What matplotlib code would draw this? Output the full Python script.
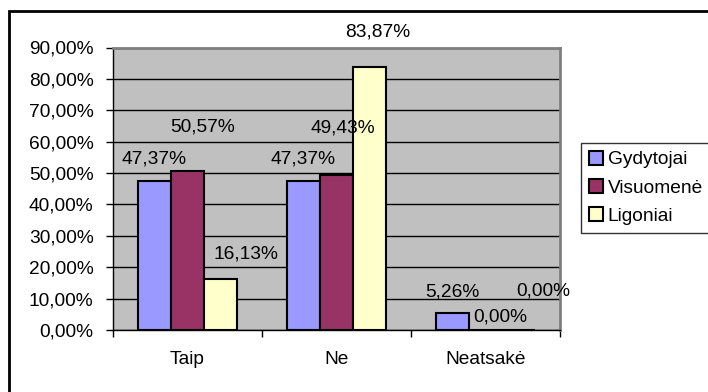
import numpy as np
import matplotlib
matplotlib.use("Agg")
import matplotlib.pyplot as plt
from matplotlib.patches import Rectangle

plt.rcParams['font.family'] = ['Liberation Sans', 'DejaVu Sans']
plt.rcParams['font.size'] = 13.8

categories = ["Taip", "Ne", "Neatsakė"]
series = ["Gydytojai", "Visuomenė", "Ligoniai"]
gydytojai = [47.37, 47.37, 5.26]
visuomene = [50.57, 49.43, 0.00]
ligoniai = [16.13, 83.87, 0.00]
yticks = [0, 10, 20, 30, 40, 50, 60, 70, 80, 90]

colors = ["#9999FF", "#993366", "#FFFFCC"]
# label offsets from the top of each bar, in pixels (labels were moved by hand in the original)
label_offsets = [
    [(0, 22), (0, 22), (0, 21)],
    [(15, 44), (6, 47), (15, 13)],
    [(25, 25), (8, 35), (25, 39)],
]

def pct(v):
    return "{:.2f}%".format(v).replace(".", ",")

fig = plt.figure(figsize=(7.08, 3.92), dpi=100)
ax = fig.add_axes([113 / 708, 62 / 392, 447 / 708, 282.5 / 392])
ax.set_facecolor("#C0C0C0")

x = np.arange(len(categories))
width = 0.222
data = [gydytojai, visuomene, ligoniai]
for i, (name, vals) in enumerate(zip(series, data)):
    pos = x + (i - 1) * width
    ax.bar(pos, vals, width, color=colors[i], edgecolor="black", linewidth=1.5,
           label=name, zorder=3)
    for j, v in enumerate(vals):
        dx, dy = label_offsets[i][j]
        ax.annotate(pct(v), (pos[j], v), xytext=(dx, dy), textcoords="offset pixels",
                    ha="center", va="center", annotation_clip=False, zorder=4)

ax.set_xlim(-0.5, len(categories) - 0.5)
ax.set_ylim(0, 90)
ax.set_yticks(yticks)
ax.set_yticklabels([pct(t) for t in yticks])
ax.yaxis.grid(True, color="black", linewidth=1, zorder=0)
ax.set_axisbelow(True)

# category boundaries get the tick marks, labels sit in the middle
ax.set_xticks(np.arange(len(categories) + 1) - 0.5)
ax.set_xticklabels([])
ax.set_xticks(x, minor=True)
ax.set_xticklabels(categories, minor=True)
ax.tick_params(axis="x", which="major", direction="out", length=5, width=1)
ax.tick_params(axis="x", which="minor", length=0, pad=15)
ax.tick_params(axis="y", direction="out", length=5, width=1, pad=9)

for s in ["top", "right"]:
    ax.spines[s].set_color("#808080")
    ax.spines[s].set_linewidth(2)
for s in ["left", "bottom"]:
    ax.spines[s].set_color("black")
    ax.spines[s].set_linewidth(1)

leg = fig.legend(loc="upper left", bbox_to_anchor=(581 / 708, 0.397, 0.2, 0.238),
                 mode="expand", frameon=True, fancybox=False, edgecolor="black",
                 handlelength=0.75, handleheight=0.75, handletextpad=0.25,
                 labelspacing=0.55, borderpad=0.4, borderaxespad=0)
leg.get_frame().set_linewidth(1)
for h in leg.legend_handles:
    h.set_linewidth(1.5)

fig.patches.append(Rectangle((9 / 708, -0.1), 1.2, (392 - 11) / 392 + 0.1,
                             transform=fig.transFigure, fill=False,
                             edgecolor="black", linewidth=2))

fig.savefig("out.png", dpi=100)
